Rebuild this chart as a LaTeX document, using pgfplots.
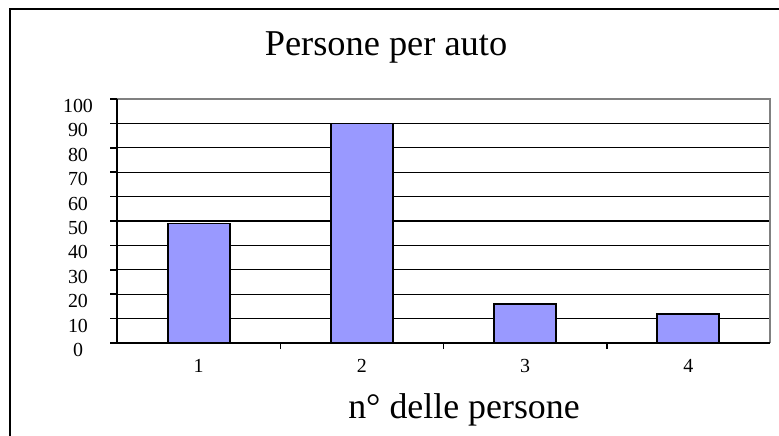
\documentclass[border=0pt]{standalone}
\usepackage{fontspec}
\setmainfont{Liberation Serif}
\usepackage{pgfplots}
\pgfplotsset{compat=1.18}
\definecolor{barblue}{HTML}{9999FF}
\begin{document}
\begin{tikzpicture}
\path[use as bounding box] (0bp,0bp) rectangle (779bp,-436bp);
\draw[line width=2bp] (10bp,-436bp) -- (10bp,-9bp) -- (779bp,-9bp);
\node[font=\fontsize{36.5}{40}\selectfont, anchor=base] at (386bp,-55bp) {Persone per auto};
\node[font=\fontsize{36}{40}\selectfont, anchor=base] at (464bp,-418bp) {n° delle persone};
\begin{axis}[
  at={(117bp,-343bp)}, anchor=south west,
  scale only axis, width=653bp, height=244bp,
  xmin=0.5, xmax=4.5, ymin=0, ymax=100,
  ytick={0,10,...,100},
  xtick={1,2,3,4},
  minor xtick={1.5,2.5,3.5},
  xtick pos=bottom, ytick pos=left,
  every major x tick/.append style={draw=none},
  every minor x tick/.append style={draw=black, line width=1.5bp},
  tick align=outside,
  major tick length=7bp,
  minor tick length=6bp,
  every major y tick/.append style={draw=black, line width=1.5bp},
  ymajorgrids,
  major grid style={black, line width=1.2bp},
  axis line style={draw=none},
  tick label style={font=\fontsize{20}{22}\selectfont},
  /pgf/number format/assume math mode=true,
  yticklabel style={anchor=center, xshift=-32bp, yshift=-7bp},
  xticklabel style={anchor=center, yshift=-16bp},
  ybar, bar width=0.38,
  clip=false,
]
\addplot[fill=barblue, draw=black, line width=1.8bp] coordinates {(1,49) (2,90) (3,16) (4,12)};
\draw[gray, line width=1.2bp] (rel axis cs:0,1) -- (rel axis cs:1,1) -- (rel axis cs:1,0);
\draw[black, line width=2.2bp] (rel axis cs:0,1) -- (rel axis cs:0,0) -- (rel axis cs:1,0);
\end{axis}
\end{tikzpicture}
\end{document}
